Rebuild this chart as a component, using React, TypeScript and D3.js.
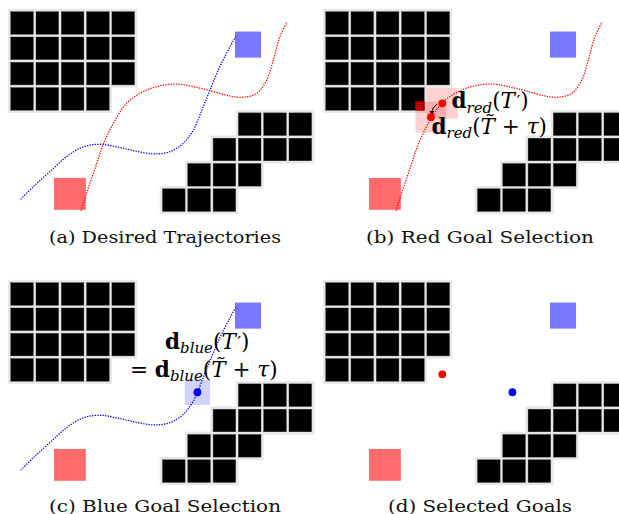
import React from 'react';
import * as d3 from 'd3';

// ---------- data (grid units: column / row of the occupancy grid) ----------
const obstacleCells: [number, number][] = [
  [0, 0], [1, 0], [2, 0], [3, 0], [4, 0],
  [0, 1], [1, 1], [2, 1], [3, 1], [4, 1],
  [0, 2], [1, 2], [2, 2], [3, 2], [4, 2],
  [0, 3], [1, 3], [2, 3], [3, 3],
  [9, 4], [10, 4], [11, 4],
  [8, 5], [9, 5], [10, 5], [11, 5],
  [7, 6], [8, 6], [9, 6],
  [6, 7], [7, 7], [8, 7],
];

const blueTrajectory: [number, number][] = [
  [0.40, 7.41], [0.89, 6.92], [1.55, 6.32], [2.21, 5.73], [2.87, 5.34],
  [3.53, 5.24], [4.19, 5.34], [4.85, 5.49], [5.64, 5.62], [6.30, 5.53],
  [6.82, 5.20], [7.22, 4.68], [7.61, 3.75], [7.88, 3.09], [8.27, 2.17],
  [8.67, 1.38], [8.93, 0.92],
];

const redTrajectory: [number, number][] = [
  [2.78, 7.87], [3.00, 7.18], [3.40, 5.99], [3.66, 5.24], [4.06, 4.41],
  [4.58, 3.62], [5.11, 3.23], [5.77, 2.96], [6.56, 2.86], [7.35, 2.99],
  [7.88, 3.12], [8.66, 3.33], [9.19, 3.38], [9.72, 3.23], [10.12, 2.70],
  [10.38, 1.91], [10.64, 0.99], [10.93, 0.40],
];

// robots: [centerX, centerY, size]
const redRobot: [number, number, number] = [2.34, 7.20, 1.26];
const blueRobot: [number, number, number] = [9.38, 1.30, 1.03];

// goal candidates
const redGoalTPrime: [number, number] = [4.61, 3.62];
const redGoalTtau: [number, number] = [4.16, 4.17];
const redWindow = 1.22;
const blueGoal: [number, number] = [7.38, 4.33];
const blueWindow = 1.0;

const captions = [
  '(a) Desired Trajectories',
  '(b) Red Goal Selection',
  '(c) Blue Goal Selection',
  '(d) Selected Goals',
];
const captionWidths = [232, 228, 232, 184];

// ---------- layout ----------
const W = 619;
const H = 514;
const PITCH = 25.3;
const CELL = 22.6;
const BORDER = 2.8;
const xs = d3.scaleLinear().domain([0, 1]).range([10.7, 10.7 + PITCH]);
const ys = d3.scaleLinear().domain([0, 1]).range([11.7, 11.7 + PITCH]);
const panelOffsets: [number, number][] = [[0, 0], [315, 0], [0, 271], [315, 271]];

const SERIF = "'DejaVu Serif', 'Liberation Serif', serif";
const RED = '#ff0000';
const BLUE = '#0000ff';

const line = d3
  .line<[number, number]>()
  .x((d) => xs(d[0]))
  .y((d) => ys(d[1]))
  .curve(d3.curveCatmullRom.alpha(0.5));

function Obstacles() {
  return (
    <g>
      {obstacleCells.map(([c, r], i) => (
        <rect key={'g' + i} x={xs(c) - BORDER} y={ys(r) - BORDER} width={CELL + 2 * BORDER} height={CELL + 2 * BORDER} fill="#e8e8e8" />
      ))}
      {obstacleCells.map(([c, r], i) => (
        <rect key={'b' + i} x={xs(c)} y={ys(r)} width={CELL} height={CELL} fill="#000" stroke="#333" strokeWidth={0.4} />
      ))}
    </g>
  );
}

function Robots() {
  const sq = (d: [number, number, number], fill: string) => {
    const s = d[2] * PITCH;
    return <rect x={xs(d[0]) - s / 2} y={ys(d[1]) - s / 2} width={s} height={s} fill={fill} />;
  };
  return (
    <g>
      {sq(redRobot, '#ff6b6b')}
      {sq(blueRobot, '#7777ff')}
    </g>
  );
}

function Path({ data, color }: { data: [number, number][]; color: string }) {
  return <path d={line(data) || ''} fill="none" stroke={color} strokeWidth={1.3} strokeDasharray="1.3 1.3" />;
}

function Dot({ p, color }: { p: [number, number]; color: string }) {
  return <circle cx={xs(p[0])} cy={ys(p[1])} r={3.9} fill={color} />;
}

function windowRect(p: [number, number], size: number) {
  const s = size * PITCH;
  return { x: xs(p[0]) - s / 2, y: ys(p[1]) - s / 2, w: s, h: s };
}

function Collisions({ p, size }: { p: [number, number]; size: number }) {
  const w = windowRect(p, size);
  const parts: { x: number; y: number; w: number; h: number }[] = [];
  obstacleCells.forEach(([c, r]) => {
    const x0 = Math.max(w.x, xs(c));
    const x1 = Math.min(w.x + w.w, xs(c) + CELL);
    const y0 = Math.max(w.y, ys(r));
    const y1 = Math.min(w.y + w.h, ys(r) + CELL);
    if (x1 > x0 && y1 > y0) parts.push({ x: x0, y: y0, w: x1 - x0, h: y1 - y0 });
  });
  return (
    <g>
      {parts.map((q, i) => (
        <rect key={i} x={q.x} y={q.y} width={q.w} height={q.h} fill="url(#hatch)" stroke="#d00000" strokeWidth={0.6} />
      ))}
    </g>
  );
}

const mathStyle: React.CSSProperties = { fontFamily: SERIF, fontSize: 21.5 };
const subStyle: React.CSSProperties = { fontStyle: 'italic', fontSize: 15 };
const SUB = 4.5;

function TPrime() {
  return (
    <>
      <tspan dy={-SUB}>(</tspan>
      <tspan style={{ fontStyle: 'italic' }}>T</tspan>
      <tspan dx={1.5} dy={-1} style={{ fontSize: 17 }}>{'\u2032'}</tspan>
      <tspan dy={1}>)</tspan>
    </>
  );
}

function TTau() {
  return (
    <>
      <tspan dy={-SUB}>(</tspan>
      <tspan style={{ fontStyle: 'italic' }}>{'T\u0303'}</tspan>
      <tspan>{' + '}</tspan>
      <tspan style={{ fontStyle: 'italic' }}>τ</tspan>
      <tspan>)</tspan>
    </>
  );
}

function Panel({ idx }: { idx: number }) {
  const [ox, oy] = panelOffsets[idx];
  const w1 = windowRect(redGoalTPrime, redWindow);
  const w2 = windowRect(redGoalTtau, redWindow);
  const wb = windowRect(blueGoal, blueWindow);
  return (
    <g transform={`translate(${ox},${oy})`}>
      <Obstacles />
      <Robots />
      {idx === 0 && (
        <>
          <Path data={blueTrajectory} color={BLUE} />
          <Path data={redTrajectory} color={RED} />
        </>
      )}
      {idx === 1 && (
        <>
          <Path data={redTrajectory} color={RED} />
          <rect x={w1.x} y={w1.y} width={w1.w} height={w1.h} fill={RED} fillOpacity={0.18} />
          <rect x={w2.x} y={w2.y} width={w2.w} height={w2.h} fill={RED} fillOpacity={0.18} />
          <Collisions p={redGoalTtau} size={redWindow} />
          <path
            d={`M ${xs(redGoalTPrime[0]) - 5} ${ys(redGoalTPrime[1]) + 1} Q ${xs(redGoalTtau[0]) + 1} ${ys(redGoalTtau[1]) - 10} ${xs(redGoalTtau[0]) + 1} ${ys(redGoalTtau[1]) - 4}`}
            fill="none"
            stroke="#000"
            strokeWidth={1}
            markerEnd="url(#arrowhead)"
          />
          <Dot p={redGoalTPrime} color={RED} />
          <Dot p={redGoalTtau} color={RED} />
          <text x={136.5} y={108} style={mathStyle}>
            <tspan style={{ fontWeight: 'bold' }}>d</tspan>
            <tspan style={subStyle} dy={SUB}>red</tspan>
            <TPrime />
          </text>
          <text x={116.5} y={133.5} style={mathStyle}>
            <tspan style={{ fontWeight: 'bold' }}>d</tspan>
            <tspan style={subStyle} dy={SUB}>red</tspan>
            <TTau />
          </text>
        </>
      )}
      {idx === 2 && (
        <>
          <Path data={blueTrajectory} color={BLUE} />
          <rect x={wb.x} y={wb.y} width={wb.w} height={wb.h} fill={BLUE} fillOpacity={0.18} />
          <Dot p={blueGoal} color={BLUE} />
          <text x={165} y={77.5} style={mathStyle}>
            <tspan style={{ fontWeight: 'bold' }}>d</tspan>
            <tspan style={subStyle} dy={SUB}>blue</tspan>
            <TPrime />
          </text>
          <text x={130} y={105.5} style={mathStyle}>
            <tspan>{'= '}</tspan>
            <tspan style={{ fontWeight: 'bold' }}>d</tspan>
            <tspan style={subStyle} dy={SUB}>blue</tspan>
            <TTau />
          </text>
        </>
      )}
      {idx === 3 && (
        <>
          <Dot p={redGoalTPrime} color={RED} />
          <Dot p={blueGoal} color={BLUE} />
        </>
      )}
      <text
        x={165}
        y={idx < 2 ? 242.5 : 240.5}
        textAnchor="middle"
        textLength={captionWidths[idx]}
        lengthAdjust="spacingAndGlyphs"
        style={{ fontFamily: SERIF, fontSize: 16 }}
        fill="#111"
      >
        {captions[idx]}
      </text>
    </g>
  );
}

export default function App() {
  return (
    <svg width={W} height={H} viewBox={`0 0 ${W} ${H}`} style={{ position: 'absolute', left: 0, top: 0, background: '#fff' }}>
      <defs>
        <pattern id="hatch" width={2} height={2} patternUnits="userSpaceOnUse">
          <rect width={2} height={2} fill="#b00000" />
          <rect width={1} height={1} fill="#5a0000" />
          <rect x={1} y={1} width={1} height={1} fill="#e00000" />
        </pattern>
        <marker id="arrowhead" viewBox="0 0 10 10" refX={5} refY={5} markerWidth={5} markerHeight={5} orient="auto">
          <path d="M0,0 L10,5 L0,10 z" fill="#000" />
        </marker>
      </defs>
      <rect width={W} height={H} fill="#fff" />
      {[0, 1, 2, 3].map((i) => (
        <Panel key={i} idx={i} />
      ))}
    </svg>
  );
}
